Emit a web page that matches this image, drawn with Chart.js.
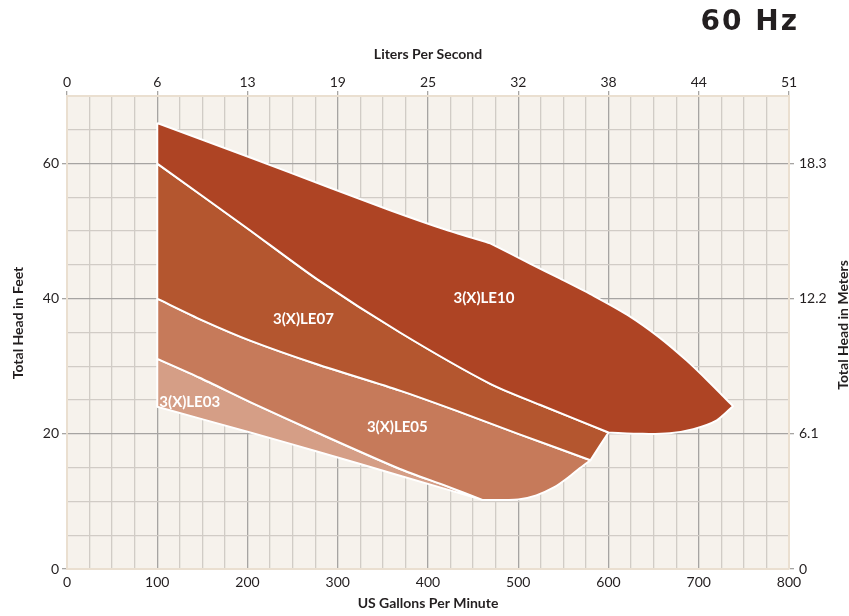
<!DOCTYPE html>
<html>
<head>
<meta charset="utf-8">
<script src="https://cdn.jsdelivr.net/npm/chart.js@4.4.1/dist/chart.umd.min.js"></script>
<style>
  html, body { margin: 0; padding: 0; background: #fff; }
  #wrap { width: 849px; height: 616px; position: relative; }
</style>
</head>
<body>
<div id="wrap"><canvas id="chart"></canvas></div>
<script>
// Axis tick values (US gpm / feet) and the metric labels that sit on them
const gpmTicks = [0, 100, 200, 300, 400, 500, 600, 700, 800];
const litersLabels = ['0', '6', '13', '19', '25', '32', '38', '44', '51'];
const feetTicks = [0, 20, 40, 60];
const meterLabels = ['0', '6.1', '12.2', '18.3'];

// Region boundaries as [gpm, feet]
const le10TopLeft = [[100, 66], [203, 60.9], [290, 56.5], [358, 53.1], [420, 50.2], [469, 48.2]];
const le10TopRight = [[469, 48.2], [513, 45.2], [546, 43.0], [584, 40.4], [621, 37.6], [657, 34.2], [687, 30.8], [712, 27.6], [738, 24.1]];
const le10Bottom = [[738, 24.1], [720, 22.0], [694, 20.7], [668, 20.1], [638, 20.0], [600, 20.2]];
const le07Top = [[100, 60], [200, 50.4], [277, 42.9], [369, 35.0], [469, 27.4], [524, 24.3], [600, 20.2]];
const le07Right = [[600, 20.2], [580, 16.1]];
const le05Top = [[100, 40], [150, 36.8], [203, 33.8], [277, 30.3], [369, 26.4], [432, 23.4], [500, 20.0], [580, 16.1]];
const le05Right = [[580, 16.1], [568, 14.9], [556, 13.6], [540, 12.1], [520, 10.9], [500, 10.3], [461, 10.2]];
const le03Top = [[100, 31.1], [147, 28.3], [203, 24.7], [277, 20.2], [369, 14.8], [420, 12.3], [461, 10.2]];
const le03Bottom = [[100, 24], [203, 20.2], [277, 17.4], [369, 13.8], [461, 10.2]];

const regionNames = ['3(X)LE10', '3(X)LE07', '3(X)LE05', '3(X)LE03'];
const regionColors = ['#ae4424', '#b4562f', '#c67a5a', '#d59e86'];
const labelAnchors = [[462, 40.1], [262, 37.0], [366, 21.0], [136, 24.7]];

const TAN = '#eadfd0';
const MINOR = '#d1ccc6';
const MAJOR = '#a6a4a2';
const INK = '#231f20';
const NONE = 'rgba(0,0,0,0)';

const rev = a => a.slice().reverse();
// closed outline from boundary pieces; piece ends are doubled so the
// spline keeps sharp corners there while the pieces themselves stay smooth
const ring = (...parts) => {
    const pts = [];
    parts.forEach(p => {
        pts.push(p[0], ...p, p[p.length - 1]);
    });
    pts.push(pts[0], pts[0]);
    return pts.map(([x, y]) => ({ x, y }));
};

const outlines = [
    ring(le10TopLeft, le10TopRight, le10Bottom, rev(le07Top)),
    ring(le07Top, le07Right, rev(le05Top)),
    ring(le05Top, le05Right, rev(le03Top)),
    ring(le03Top, rev(le03Bottom))
];

const tickFont = { family: 'Lato', size: 14 };
const titleFont = { family: 'Lato', size: 14, weight: 'bold' };

const gridColor = (ctx, step, max) => {
    const v = ctx.tick.value;
    if (v === 0 || v === max) return TAN;
    return v % step === 0 ? MAJOR : MINOR;
};
const tickMark = (ctx, step) => ctx.tick.value % step === 0 ? MAJOR : NONE;

// cream plot background, region labels, side titles and the 60 Hz tag
const decorations = {
    id: 'decorations',
    beforeDraw(chart) {
        const { ctx, chartArea: a } = chart;
        ctx.save();
        ctx.fillStyle = '#f6f2ec';
        ctx.fillRect(a.left, a.top, a.right - a.left, a.bottom - a.top);
        ctx.restore();
    },
    afterDatasetsDraw(chart) {
        const { ctx, scales } = chart;
        ctx.save();
        ctx.fillStyle = '#fff';
        ctx.font = 'bold 15px Lato';
        ctx.textAlign = 'center';
        ctx.textBaseline = 'middle';
        regionNames.forEach((name, i) => {
            const [gx, ft] = labelAnchors[i];
            ctx.fillText(name, scales.x.getPixelForValue(gx), scales.y.getPixelForValue(ft));
        });
        ctx.restore();
    },
    afterDraw(chart) {
        const { ctx } = chart;
        ctx.save();
        ctx.fillStyle = INK;
        ctx.font = 'bold 14px Lato';
        ctx.textAlign = 'center';
        ctx.textBaseline = 'middle';
        [['Total Head in Feet', 18, 323], ['Total Head in Meters', 843, 325]].forEach(([t, x, y]) => {
            ctx.save();
            ctx.translate(x, y);
            ctx.rotate(-Math.PI / 2);
            ctx.fillText(t, 0, 0);
            ctx.restore();
        });
        ctx.font = 'bold 28px "DejaVu Sans"';
        ctx.letterSpacing = '2px';
        ctx.textAlign = 'right';
        ctx.textBaseline = 'alphabetic';
        ctx.fillText('60 Hz', 799, 30);
        ctx.restore();
    }
};

new Chart(document.getElementById('chart'), {
    type: 'scatter',
    data: {
        datasets: outlines.map((pts, i) => ({
            label: regionNames[i],
            data: pts,
            showLine: true,
            fill: 'shape',
            backgroundColor: regionColors[i],
            borderColor: '#fff',
            borderWidth: 2,
            borderJoinStyle: 'round',
            pointRadius: 0,
            tension: 0.25
        }))
    },
    options: {
        responsive: true,
        maintainAspectRatio: false,
        animation: false,
        layout: { padding: 0 },
        plugins: {
            legend: { display: false },
            tooltip: { enabled: false }
        },
        scales: {
            x: {
                type: 'linear', position: 'bottom', min: 0, max: 800,
                ticks: {
                    stepSize: 25, autoSkip: false, maxRotation: 0, padding: 5,
                    font: tickFont, color: INK,
                    callback: v => gpmTicks.includes(v) ? String(v) : ''
                },
                grid: { color: ctx => gridColor(ctx, 100, 800), lineWidth: 1.3, drawTicks: false },
                border: { color: TAN, width: 2 },
                title: { display: true, text: 'US Gallons Per Minute', font: titleFont, color: INK, padding: { top: 0, bottom: 4 } },
                afterFit: s => { s.height = 47; }
            },
            x2: {
                type: 'linear', position: 'top', min: 0, max: 800,
                ticks: {
                    stepSize: 25, autoSkip: false, maxRotation: 0, padding: 0,
                    font: tickFont, color: INK,
                    callback: v => {
                        const i = gpmTicks.indexOf(v);
                        return i >= 0 ? litersLabels[i] : '';
                    }
                },
                grid: { drawOnChartArea: false, tickLength: 5, tickColor: ctx => tickMark(ctx, 100), lineWidth: 1.3 },
                border: { color: TAN, width: 2 },
                title: { display: true, text: 'Liters Per Second', font: titleFont, color: INK, padding: { top: 46, bottom: 0 } },
                afterFit: s => { s.height = 96; }
            },
            y: {
                type: 'linear', position: 'left', min: 0, max: 70,
                ticks: {
                    stepSize: 5, autoSkip: false, padding: 3,
                    font: tickFont, color: INK,
                    callback: v => feetTicks.includes(v) ? String(v) : ''
                },
                grid: { color: ctx => gridColor(ctx, 20, 70), lineWidth: 1.3, tickLength: 5, tickColor: ctx => tickMark(ctx, 20) },
                border: { color: TAN, width: 2 },
                afterFit: s => { s.width = 67; }
            },
            y2: {
                type: 'linear', position: 'right', min: 0, max: 70,
                ticks: {
                    stepSize: 5, autoSkip: false, padding: 5,
                    font: tickFont, color: INK,
                    callback: v => {
                        const i = feetTicks.indexOf(v);
                        return i >= 0 ? meterLabels[i] : '';
                    }
                },
                grid: { drawOnChartArea: false, tickLength: 5, tickColor: ctx => tickMark(ctx, 20), lineWidth: 1.3 },
                border: { color: TAN, width: 2 },
                afterFit: s => { s.width = 60; }
            }
        }
    },
    plugins: [decorations]
});
</script>
</body>
</html>
